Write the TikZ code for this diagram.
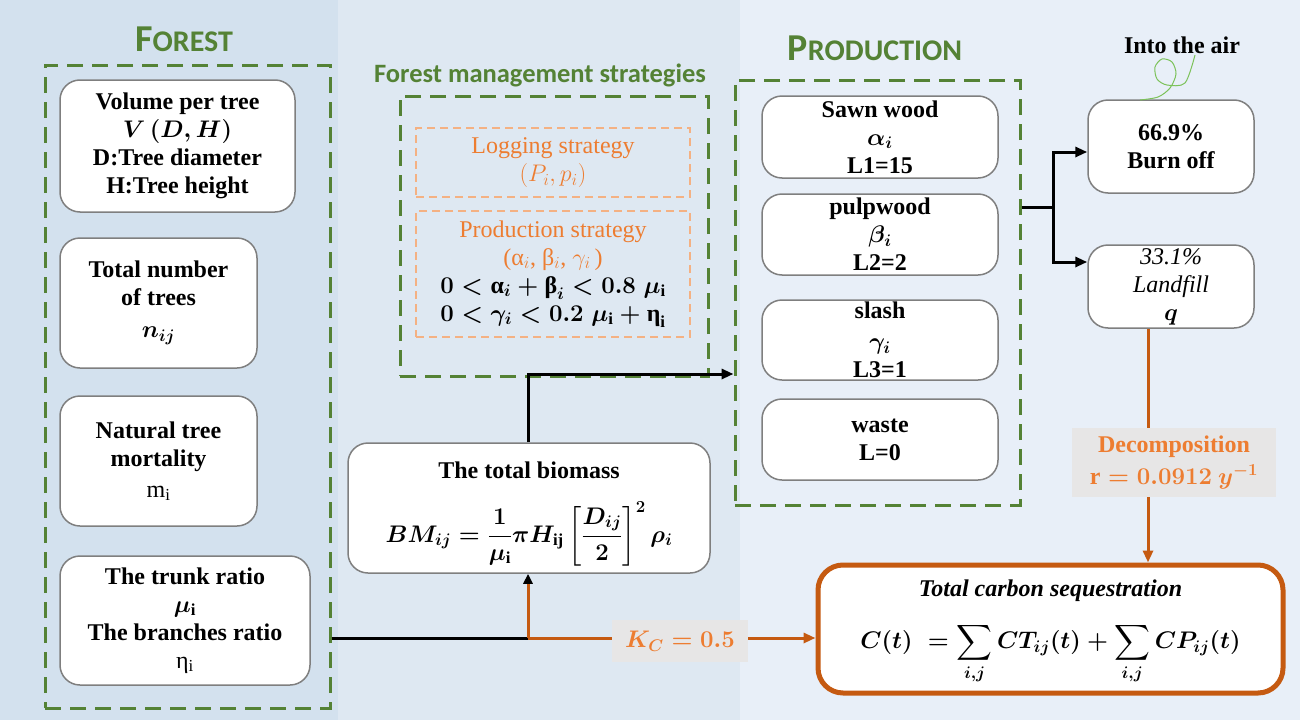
\RequirePackage{fix-cm}
\documentclass[tikz,border=0pt]{standalone}
\usepackage{amsmath}
\usepackage{fontspec}
\setmainfont{Liberation Serif}
\newfontfamily\calibri{Carlito}
\usetikzlibrary{arrows.meta}
\definecolor{bgA}{HTML}{D3E1EE}
\definecolor{bgB}{HTML}{DEE8F2}
\definecolor{bgC}{HTML}{E8EFF8}
\definecolor{fgreen}{HTML}{548235}
\definecolor{lorange}{HTML}{F4B183}
\definecolor{torange}{HTML}{ED7D31}
\definecolor{dorange}{HTML}{C55A11}
\definecolor{bgray}{HTML}{7F7F7F}
\definecolor{lgray}{HTML}{E7E6E6}
\definecolor{sqgreen}{HTML}{7CC25A}
\begin{document}
\begin{tikzpicture}[x=1pt,y=-1pt,
  gbox/.style={draw=bgray, line width=1.5pt, fill=white, rounded corners=20pt, align=center, inner sep=0pt, font=\fontsize{24}{28}\selectfont\bfseries},
  gdash/.style={draw=fgreen, line width=3pt, dash pattern=on 16pt off 9pt, inner sep=0pt},
  odash/.style={draw=lorange, line width=1.5pt, dash pattern=on 8pt off 5pt, inner sep=0pt, align=center, font=\fontsize{24}{28}\selectfont},
  blk/.style={line width=3pt, black},
  org/.style={line width=3pt, dorange},
  tip/.style={-{Triangle[length=12pt,width=10pt]}},
  lab/.style={fill=lgray, text=torange, align=center, inner sep=0pt, font=\fontsize{24}{28}\selectfont\bfseries},
  ttl/.style={text=fgreen, font=\calibri\bfseries, inner sep=0pt}
]
% backgrounds
\fill[bgA] (0,0) rectangle (338,720);
\fill[bgB] (338,0) rectangle (740,720);
\fill[bgC] (740,0) rectangle (1300,720);
\useasboundingbox (0,0) rectangle (1300,720);

% titles
\node[ttl] (tforest) at (184,39) {\fontsize{38}{38}\selectfont F\fontsize{30}{30}\selectfont OREST};
\node[ttl] (tprod) at (875,48) {\fontsize{38}{38}\selectfont P\fontsize{30}{30}\selectfont RODUCTION};
\node[ttl, font=\calibri\bfseries\fontsize{26.5}{28}\selectfont] (tfms) at (540,75) {Forest management strategies};
\node[font=\fontsize{24}{28}\selectfont\bfseries, inner sep=0pt] (air) at (1182,45) {Into the air};

% dashed groups
\node[gdash, minimum width=285, minimum height=643] (forest) at (187.5,386.5) {};
\node[gdash, minimum width=308, minimum height=280] (fms) at (554,236) {};
\node[gdash, minimum width=285, minimum height=425] (prod) at (877.5,292.5) {};

% forest boxes
\node[gbox, minimum width=235, minimum height=132] (vol) at (177.5,146)
  {Volume per tree\\{\boldmath$V\,(D,H)$}\\D:Tree diameter\\H:Tree height};
\node[gbox, minimum width=197, minimum height=130] (num) at (158.5,303)
  {Total number\\of trees\\[4pt]{\boldmath$n_{ij}$}};
\node[gbox, minimum width=197, minimum height=130] (mort) at (158.5,461)
  {Natural tree\\mortality\\[3pt]{\mdseries m$_{\mathrm{i}}$}};
\node[gbox, minimum width=250, minimum height=129] (trunk) at (185,620.5)
  {The trunk ratio\\{\boldmath$\mu_{\mathrm{i}}$}\\The branches ratio\\{\mdseries η$_{\mathrm{i}}$}};

% strategies
\node[odash, minimum width=274, minimum height=69, text=torange] (log) at (553,162.5)
  {Logging strategy\\$(P_i,p_i)$};
\node[odash, minimum width=274, minimum height=126] (pstr) at (553,274)
  {\textcolor{torange}{Production strategy}\\
   \textcolor{torange}{(α$_i$, β$_i$, $\gamma_i$\,)}\\
   {\bfseries\boldmath$0<\text{α}_i+\text{β}_i<0.8\;\mu_{\mathrm{i}}$}\\
   {\bfseries\boldmath$0<\gamma_i<0.2\;\mu_{\mathrm{i}}+\text{η}_{\mathrm{i}}$}};

% production boxes
\node[gbox, minimum width=236, minimum height=82] (sawn) at (880,137)
  {Sawn wood\\{\boldmath$\alpha_i$}\\L1=15};
\node[gbox, minimum width=236, minimum height=81] (pulp) at (880,234.5)
  {pulpwood\\{\boldmath$\beta_i$}\\L2=2};
\node[gbox, minimum width=236, minimum height=80] (slash) at (880,340)
  {slash\\[3pt]{\boldmath$\gamma_i$}\\L3=1};
\node[gbox, minimum width=236, minimum height=81] (waste) at (880,439.5)
  {waste\\L=0};

% right boxes
\node[gbox, minimum width=166, minimum height=93] (burn) at (1171,146.5)
  {66.9\%\\Burn off};
\node[gbox, minimum width=166, minimum height=83] (land) at (1171,286.5)
  {{\mdseries\itshape 33.1\%}\\{\mdseries\itshape Landfill}\\{\boldmath$q$}};

% biomass (box drawn separately so the text can sit lower)
\node[gbox, minimum width=362, minimum height=130] (bio) at (529,508) {};
\node[font=\fontsize{24}{28}\selectfont\bfseries, align=center, inner sep=0pt] (biotxt) at (529,514)
  {The total biomass\\[22pt]{\boldmath$BM_{ij}=\dfrac{1}{\mu_{\mathrm{i}}}\pi H_{\mathrm{ij}}\left[\dfrac{D_{ij}}{2}\right]^2\rho_i$}};

% total carbon
\node[gbox, draw=dorange, line width=5pt, rounded corners=25pt, minimum width=465, minimum height=128] (tc) at (1050.5,629) {};
\node[font=\fontsize{24}{28}\selectfont\bfseries, align=center, inner sep=0pt] (tctxt) at (1050.5,632)
  {\itshape Total carbon sequestration\\[20pt]{\boldmath$C(t)\;=\displaystyle\sum_{i,j}CT_{ij}(t)+\sum_{i,j}CP_{ij}(t)$}};

% connectors
\coordinate (j1) at (528,638);
\draw[blk] (forest.east |- j1) -- (j1);
\draw[org, -{Triangle[length=10pt,width=9pt,black]}] (j1) -- (bio.south -| j1);
\draw[org, tip] (j1) -- (tc.west |- j1);
\node[lab, minimum width=136, minimum height=42] (kc) at (680,641) {{\boldmath$K_C=0.5$}};

\coordinate (a2) at (735,374);
\draw[blk, tip] (bio.north -| j1) |- (prod.west |- a2);

\coordinate (sp) at (1053,207);
\draw[blk] (prod.east |- sp) -- (sp);
\draw[blk, tip] (sp) |- ([yshift=-5.5pt]burn.west);
\draw[blk, tip] (sp) |- ([yshift=24.5pt]land.west);

\coordinate (dx) at (1148,0);
\draw[org, tip] (land.south -| dx) -- (tc.north -| dx);
\node[lab, minimum width=204, minimum height=69] (dec) at (1174,462.5)
  {Decomposition\\[4pt]{\boldmath$\mathrm{r}=0.0912\ y^{-1}$}};

% smoke squiggle
\draw[sqgreen, line width=1pt] plot[smooth] coordinates {(1140,100) (1158,97) (1170,88) (1176,74) (1172,62) (1162,59) (1155,67) (1157,79) (1167,85) (1185,83) (1195,55)};
\end{tikzpicture}
\end{document}
